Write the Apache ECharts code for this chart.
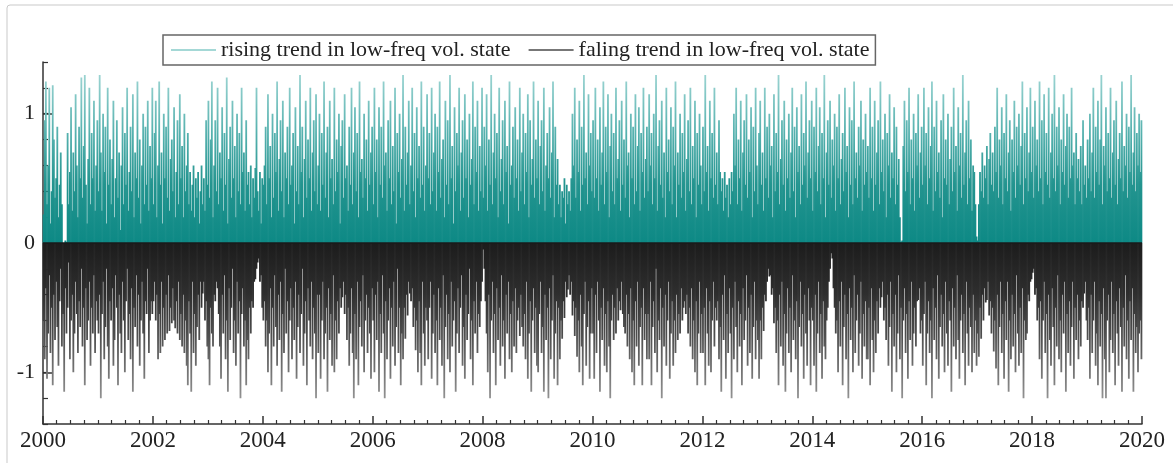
<!DOCTYPE html>
<html><head><meta charset="utf-8">
<script src="https://cdn.jsdelivr.net/npm/echarts@6/dist/echarts.min.js"></script>
<style>html,body{margin:0;padding:0;background:#fff}#c{width:1173px;height:463px}</style>
</head><body><div id="c"></div>
<script>
const startYear = 2000;
const yTickLabels = [-1,0,1];
const seriesNames = ['rising trend in low-freq vol. state','faling trend in low-freq vol. state'];

// rising trend values, one row per year (2000..2019)
const rising = [
[.22,.95,1.25,.3,.6,1.2,.15,.4,1.22,.8,.35,.5,.9,.2,.45,.7,.3,0,0,.02,.01,.85,.3,.55,1.05,.25,.7,.4,1.15,.6,.2,.9,.5,1.28,.35,.75,1.3,.45,.15,.65,1.2,.3,.85,.5,1.1,.25,.6,.95],
[.4,1.3,.7,.25,1.0,.55,.9,.15,1.2,.45,.8,.3,.65,1.1,.2,.5,.95,.35,.7,.1,.6,1.05,.3,.85,.45,1.2,.25,.55,.9,.4,1.15,.2,.7,.5,1.25,.35,.8,.15,.6,1.0,.3,.9,.45,1.1,.25,.75,.5,1.2],
[.3,.85,1.1,.2,.6,1.25,.45,.7,.15,1.0,.5,.9,.35,1.2,.25,.65,.8,.4,1.05,.2,.55,.95,.3,1.15,.5,.75,.2,1.0,.4,.6,.85,.3,.55,.25,.45,.6,.2,.5,.35,.55,.15,.4,.6,.3,.5,.25,.95,.45],
[1.1,.35,.8,1.25,.2,.6,.95,.4,1.2,.3,.7,.5,1.05,.25,.85,.45,1.28,.15,.65,.9,.35,1.1,.5,.75,.2,1.0,.4,.85,.3,1.2,.55,.7,.25,.95,.45,.55,.3,.6,.2,.5,.35,.58,1.2,.4,.25,.55,.15,.5],
[.45,.6,.9,.3,1.15,.5,.75,.2,1.0,.35,.85,.55,1.25,.25,.65,.95,.4,1.1,.2,.7,.5,.9,.3,1.2,.45,.6,.85,.15,1.05,.4,.75,.3,1.3,.55,.9,.2,.65,1.1,.35,.8,.5,1.2,.25,.7,.95,.4,1.15,.3],
[.6,1.0,.25,.85,.45,1.25,.35,.7,.9,.2,1.1,.5,.65,.3,1.2,.4,.8,.55,1.0,.15,.75,.95,.35,1.15,.5,.6,.25,.9,.45,1.2,.3,.7,1.05,.4,.85,.2,1.25,.55,.65,.35,1.0,.5,.8,.25,1.1,.45,.7,.9],
[.3,1.2,.55,.8,.2,1.05,.45,.9,.35,1.25,.6,.7,.25,.95,.5,1.1,.3,.75,.4,1.2,.15,.85,.55,1.0,.35,.65,1.3,.25,.9,.45,.7,1.1,.3,.6,1.2,.4,.85,.2,1.05,.5,.75,.35,1.25,.45,.9,.25,.6,1.15],
[.5,.85,.3,1.2,.4,.7,1.0,.25,.9,.55,1.25,.35,.65,.8,.2,1.1,.45,.95,.3,1.3,.5,.75,.15,1.05,.4,.85,.6,1.2,.25,.7,.95,.35,1.15,.5,.8,.2,1.0,.45,.65,1.25,.3,.9,.55,1.1,.25,.75,.4,1.2],
[.35,.9,.6,1.15,.25,.8,.45,1.3,.3,.7,1.0,.5,.85,.2,1.2,.4,.65,.95,.3,1.1,.55,.75,.15,1.25,.45,.6,.9,.35,1.05,.5,.8,.25,1.2,.4,.7,1.0,.3,.85,.55,1.15,.2,.95,.45,.65,1.25,.35,.8,.5],
[1.1,.3,.75,.95,.4,1.2,.25,.6,.85,.5,1.05,.35,.7,1.25,.2,.9,.45,.65,.3,.45,.2,.4,.35,.5,.15,.45,.3,.4,.25,.5,1.0,.6,1.2,.35,.8,.55,1.1,.25,.9,.45,1.3,.5,.7,.3,1.15,.6,.85,.4],
[.95,.35,1.2,.5,.8,.25,1.05,.45,.7,1.25,.3,.9,.55,1.15,.2,.75,1.0,.4,.85,.3,1.2,.5,.65,.95,.25,1.1,.45,.8,.35,1.25,.6,.7,.2,1.0,.5,.9,.3,1.15,.4,.75,1.05,.25,.85,.55,1.2,.35,.65,.9],
[.4,1.15,.6,.85,.3,1.0,.5,1.3,.25,.75,.95,.45,1.1,.35,.7,.2,1.2,.55,.8,.4,1.05,.3,.9,.6,1.25,.2,.7,.45,1.0,.35,.85,.55,1.15,.25,.65,.95,.4,1.2,.3,.75,.5,1.1,.2,.85,.45,1.0,.6,.3],
[.9,.4,1.3,.55,.75,.25,1.1,.5,.85,.35,1.2,.45,.7,.3,.95,.55,.4,.5,.25,.55,.35,.45,.2,.5,.3,.55,.4,1.0,.6,1.2,.3,.8,.5,1.1,.25,.7,.95,.45,1.15,.35,.8,.55,1.05,.2,.9,.4,1.2,.6],
[.3,.85,1.1,.45,.7,.25,1.2,.5,.9,.35,1.0,.6,.75,.2,1.15,.4,.85,.55,1.3,.3,.65,.95,.45,1.1,.25,.8,.5,1.0,.35,.7,1.2,.4,.9,.2,1.05,.55,.75,.3,1.15,.45,.85,.6,1.25,.35,.7,.95,.5,1.1],
[.25,.9,.55,1.2,.4,.75,1.05,.3,.85,.5,1.3,.2,.7,.95,.45,1.1,.35,.8,.6,1.0,.25,.9,.5,1.15,.3,.65,.85,.4,1.2,.55,.75,.2,1.05,.45,.95,.3,1.25,.5,.7,.35,.9,.6,1.1,.25,.8,.45,1.0,.55],
[.75,.35,1.2,.5,.9,.25,1.1,.45,.7,.95,.3,1.25,.55,.8,.4,1.0,.2,.85,.6,1.15,.35,.7,.5,1.05,.3,.9,.45,.65,.2,.01,.02,.75,1.1,.4,.95,.55,1.2,.3,.8,.5,1.0,.25,.85,.6,1.15,.35,.7,.9],
[.45,1.2,.6,.85,.3,1.05,.5,.75,1.25,.25,.9,.4,1.1,.55,.7,.35,.95,.2,1.15,.5,.8,.45,1.0,.3,.65,.9,.4,1.2,.55,.75,.25,1.05,.6,.85,.35,1.3,.45,.7,.95,.3,1.1,.5,.8,.25,.6,.55,.3,.05],
[.02,.3,.55,.4,.7,.35,.6,.5,.75,.3,.65,.85,.45,.7,.4,.9,.55,1.2,.35,.8,.6,1.05,.3,.85,.5,1.15,.4,.7,.95,.25,.8,.55,1.1,.35,.9,.6,1.0,.45,.75,1.25,.3,.85,.5,1.05,.4,.7,1.2,.55],
[.9,.35,1.1,.6,.8,.4,1.25,.5,.95,.3,1.15,.55,.85,.45,1.2,.35,.7,1.0,.5,1.3,.4,.9,.6,1.05,.3,.8,.55,1.15,.45,.75,1.0,.35,.9,.5,1.2,.6,.7,.3,.85,.5,.65,.4,.75,.3,.95,.45,.6,.35],
[.8,.5,1.0,.4,.7,1.2,.35,.9,.55,1.1,.45,.8,1.3,.3,.75,.6,1.05,.4,.85,.5,1.2,.35,.7,.95,.45,1.1,.3,.65,.85,.5,1.25,.4,.75,.6,1.0,.35,.9,.55,1.3,.45,.7,1.05,.4,.85,.6,1.0,.55,.95]
];

// falling trend values, one row per year (2000..2019)
const falling = [
[-.6,-.9,-.35,-1.05,-.7,-.25,-.85,-.5,-1.1,-.4,-.75,-.3,-.65,-.95,-.45,-.2,-.8,-.55,-1.15,-.35,-.7,-.5,-.15,-.9,-.6,-.4,-1.0,-.7,-.3,-.55,-.85,-.45,-.65,-.2,-.8,-.5,-1.1,-.35,-.75,-.6,-.3,-.95,-.5,-.7,-.25,-.85,-.45,-.6],
[-.7,-.4,-1.2,-.55,-.3,-.9,-.65,-.2,-.8,-1.05,-.45,-.6,-.35,-.95,-.75,-.25,-.5,-1.1,-.4,-.7,-.85,-.3,-.6,-1.0,-.45,-.2,-.75,-.55,-.9,-.35,-1.15,-.5,-.65,-.25,-.8,-.4,-.95,-.6,-.3,-.7,-1.05,-.45,-.55,-.2,-.85,-.6,-.45,-.55],
[-.45,-.3,-.6,-.4,-.9,-.55,-.85,-.3,-.8,-.5,-.75,-.4,-.7,-.25,-.68,-.5,-.62,-.35,-.6,-.66,-.45,-.7,-.3,-.75,-.55,-.8,-.4,-.85,-.6,-.95,-1.1,-.45,-.7,-1.15,-.3,-.85,-.55,-.95,-.65,-.4,-.75,-.3,-.5,-.39,-.3,-.6,-.45,-.8],
[-.9,-1.1,-.5,-.7,-.8,-.4,-.45,-.3,-.35,-.55,-.8,-1.05,-.4,-.7,-.25,-.9,-.6,-1.15,-.35,-.75,-.5,-.2,-.85,-.6,-.95,-.3,-.7,-.45,-1.2,-.55,-.35,-.8,-.6,-1.1,-.75,-.9,-.5,-.7,-.45,-.5,-.3,-.28,-.2,-.15,-.12,-.3,-.25,-.5],
[-.6,-.45,-.8,-.6,-1.0,-.7,-.35,-1.1,-.5,-.8,-.25,-.65,-.95,-.4,-.75,-.3,-1.15,-.55,-.85,-.2,-.7,-.45,-1.0,-.6,-.35,-.9,-.5,-.75,-.3,-1.05,-.65,-.4,-.85,-.55,-.2,-.95,-.7,-.45,-1.1,-.35,-.6,-.8,-.3,-.9,-.5,-.7,-1.2,-.4],
[-.85,-.4,-1.05,-.6,-.3,-.9,-.7,-.5,-1.15,-.35,-.75,-.55,-.95,-.25,-1.0,-.6,-.9,-.45,-.7,-.35,-.5,-.42,-.3,-.55,-.4,-.75,-.5,-.95,-.7,-.35,-.85,-1.2,-.55,-.9,-.3,-1.1,-.65,-.45,-.8,-.25,-1.0,-.6,-.4,-.85,-.5,-.7,-1.05,-.35],
[-.6,-1.0,-.4,-.75,-.3,-1.15,-.55,-.85,-.25,-.7,-1.2,-.45,-.9,-.6,-.35,-1.05,-.5,-.8,-.3,-.95,-.65,-.2,-.85,-.5,-1.1,-.7,-.9,-.5,-.74,-.4,-.56,-.3,-.39,-.45,-.35,-.65,-.5,-.83,-.6,-1.0,-.45,-.85,-1.1,-.3,-.7,-.95,-.5,-.6],
[-.9,-.5,-.3,-1.05,-.7,-.4,-.85,-.6,-1.1,-.35,-.75,-.5,-.95,-.25,-1.2,-.65,-.4,-.9,-.55,-1.0,-.3,-.8,-.6,-.45,-1.15,-.7,-.35,-.85,-.5,-.25,-.95,-.65,-1.05,-.4,-.75,-.55,-.2,-.9,-.6,-1.1,-.45,-.7,-.3,-.85,-.55,-.65,-.45,-.3],
[-.05,-.2,-.45,-.7,-1.0,-.4,-1.2,-.6,-.3,-.85,-.55,-1.1,-.35,-.75,-.5,-.95,-.25,-.8,-.6,-1.05,-.4,-.7,-.3,-.9,-.55,-1.0,-.45,-.8,-.35,-.85,-.6,-.5,-.72,-.4,-.65,-.8,-.55,-.9,-.3,-1.05,-.7,-.45,-1.15,-.6,-.35,-.85,-.5,-.95],
[-1.0,-.55,-.3,-.85,-.65,-1.15,-.4,-.75,-.5,-1.2,-.35,-.9,-.6,-.25,-1.05,-.7,-.45,-1.1,-.5,-.9,-.6,-.74,-.45,-.58,-.3,-.42,-.36,-.25,-.4,-.3,-.56,-.45,-.72,-.5,-.88,-.6,-1.0,-.4,-.8,-1.1,-.55,-.3,-.95,-.65,-.45,-1.05,-.7,-.35],
[-.7,-1.05,-.4,-.85,-.3,-.6,-1.15,-.5,-.75,-.35,-.95,-.55,-1.0,-.45,-.8,-1.2,-.6,-.4,-.75,-.5,-.7,-.35,-.6,-.45,-.52,-.3,-.55,-.65,-.7,-.4,-.8,-.55,-.9,-.35,-1.0,-.6,-1.1,-.45,-.8,-.3,-.95,-.65,-.5,-1.1,-.35,-.75,-.55,-.9],
[-.55,-.9,-.3,-1.1,-.65,-.45,-.85,-.2,-1.0,-.6,-.75,-.35,-1.2,-.5,-.8,-.4,-.95,-.6,-.3,-1.05,-.7,-.45,-.95,-.6,-.85,-.4,-.75,-.55,-.7,-.35,-.6,-.5,-.45,-.55,-.4,-.7,-.5,-.8,-.35,-.9,-.6,-1.0,-.45,-1.1,-.7,-.3,-.85,-.55],
[-.85,-.5,-1.1,-.35,-.7,-.95,-.45,-1.0,-.6,-.3,-.8,-.5,-.6,-.45,-.9,-.65,-1.15,-.4,-.75,-.25,-1.05,-.55,-.85,-.35,-.7,-1.2,-.5,-.9,-.3,-.65,-1.0,-.45,-.8,-.55,-1.1,-.35,-.75,-.6,-.25,-.95,-.5,-.85,-.4,-1.05,-.65,-.3,-.9,-.6],
[-.75,-1.05,-.6,-.9,-.5,-.68,-.4,-.45,-.3,-.2,-.26,-.25,-.4,-.35,-.62,-.5,-.85,-.6,-1.1,-.4,-.8,-.3,-.95,-.55,-1.15,-.7,-.35,-.85,-.5,-1.0,-.25,-.75,-.6,-.9,-.45,-1.2,-.65,-.3,-.8,-.55,-1.05,-.4,-.7,-.95,-.35,-.6,-1.1,-.5],
[-.6,-.95,-.4,-1.15,-.7,-.3,-.85,-.55,-1.05,-.45,-.8,-.9,-.6,-.5,-.3,-.2,-.08,-.12,-.35,-.5,-.7,-.6,-1.0,-.45,-.8,-.3,-1.1,-.65,-.4,-.9,-.55,-1.2,-.35,-.75,-.5,-1.0,-.25,-.85,-.6,-.4,-.95,-.7,-.3,-1.05,-.55,-.8,-.45,-.9],
[-.9,-.5,-1.1,-.35,-.75,-1.0,-.6,-.85,-.45,-.7,-.35,-.5,-.42,-.3,-.6,-.5,-.75,-.4,-.95,-.65,-.3,-1.15,-.55,-.8,-.4,-1.0,-.7,-.25,-.9,-.5,-1.2,-.6,-.35,-.85,-.55,-1.05,-.45,-.75,-.3,-.95,-.7,-.5,-.8,-.45,-.44,-.35,-.7,-.6],
[-.95,-.55,-.3,-1.1,-.7,-.45,-.85,-.6,-1.2,-.35,-.75,-.5,-.9,-.25,-1.05,-.65,-.4,-.8,-.55,-1.0,-.3,-.7,-.95,-.45,-.6,-1.15,-.35,-.8,-.5,-.9,-.25,-.75,-1.05,-.6,-.4,-.85,-.55,-1.1,-.3,-.7,-.95,-.5,-.65,-1.0,-.4,-.85,-.6,-.95],
[-.7,-.88,-.5,-.74,-.4,-.6,-.35,-.46,-.44,-.3,-.56,-.45,-.7,-.5,-.84,-.6,-.97,-.4,-1.1,-.65,-.3,-.85,-.55,-1.05,-.45,-.75,-.3,-1.15,-.6,-.9,-.4,-.8,-.55,-1.0,-.25,-.7,-.95,-.5,-.85,-.35,-1.2,-.6,-.75,-.7,-.4,-.45,-.3,-.28],
[-.23,-.2,-.4,-.35,-.6,-.5,-.9,-.45,-1.05,-.6,-.3,-.85,-.55,-1.2,-.4,-.75,-.95,-.35,-.65,-1.1,-.5,-.8,-.25,-.9,-.6,-1.0,-.4,-.7,-.3,-1.15,-.55,-.85,-.45,-.95,-.65,-.3,-1.05,-.5,-.75,-.4,-.9,-.6,-.8,-.45,-.5,-.39,-.3,-.6],
[-.75,-.5,-1.05,-.4,-.85,-.6,-.3,-.95,-.7,-1.1,-.45,-.8,-.55,-1.2,-.35,-.9,-1.2,-.6,-.4,-1.0,-.75,-.3,-.85,-.55,-1.1,-.45,-.7,-.95,-.35,-.65,-1.15,-.5,-.8,-.25,-.9,-.6,-1.05,-.45,-.75,-.35,-1.15,-.55,-.85,-.65,-1.0,-.7,-.6,-.9]
];

function toPoints(rows) {
  const out = [];
  rows.forEach((row, y) => {
    row.forEach((v, j) => out.push([startYear + y + (j + 0.5) / row.length, v]));
  });
  return out;
}

const FONT = 'Liberation Serif';
const chart = echarts.init(document.getElementById('c'), null, {renderer: 'canvas'});
const xAxisBase = {type: 'value', min: 2000, max: 2020, interval: 2};
chart.setOption({
  animation: false,
  backgroundColor: '#fff',
  graphic: [{
    type: 'rect', z: -10, silent: true,
    shape: {x: 7, y: 5, width: 1200, height: 520, r: 3},
    style: {fill: 'none', stroke: '#c9c9c9', lineWidth: 1}
  }],
  legend: {
    left: 163, top: 35,
    data: [
      {name: seriesNames[0], itemStyle: {color: '#86cbc8'}},
      {name: seriesNames[1], itemStyle: {color: '#4a4a4a'}}
    ],
    icon: 'rect', itemWidth: 45, itemHeight: 1.5, itemGap: 18,
    padding: [4, 6, 4, 8],
    borderColor: '#666', borderWidth: 1.5, backgroundColor: '#fff',
    textStyle: {fontFamily: FONT, fontSize: 22, color: '#222'}
  },
  grid: {left: 43, right: 31, top: 62, bottom: 39, containLabel: false},
  xAxis: [Object.assign({}, xAxisBase, {show: false}),
    Object.assign({}, xAxisBase, {
      position: 'bottom',
      axisLine: {show: true, onZero: false, lineStyle: {color: '#333', width: 1.5}},
      axisTick: {show: true, inside: true, length: 8, lineStyle: {color: '#333', width: 1.5}},
      minorTick: {show: true, splitNumber: 8, length: 4, lineStyle: {color: '#333', width: 1.2}},
      splitLine: {show: false},
      axisLabel: {fontFamily: FONT, fontSize: 23, color: '#222', margin: 5, formatter: v => String(v)}
    })],
  yAxis: [{
    type: 'value', min: -1.4, max: 1.4, interval: 0.2,
    axisLine: {show: true, onZero: false, lineStyle: {color: '#333', width: 1.5}},
    axisTick: {show: true, inside: true, length: 5, lineStyle: {color: '#333', width: 1.2}},
    splitLine: {show: false},
    axisLabel: {fontFamily: FONT, fontSize: 22, color: '#222', margin: 8,
      customValues: yTickLabels, formatter: v => String(Math.round(v))}
  }, {
    type: 'value', min: -1.4, max: 1.4, position: 'left',
    axisLine: {show: false, onZero: false},
    axisTick: {show: true, inside: true, length: 9, customValues: yTickLabels, lineStyle: {color: '#333', width: 1.5}},
    axisLabel: {show: false}, splitLine: {show: false}
  }],
  series: [{
    name: seriesNames[0], type: 'bar', barWidth: 1.8, barGap: '-100%',
    xAxisIndex: 0, yAxisIndex: 0,
    data: toPoints(rising),
    itemStyle: {color: '#2a9a97'},
    emphasis: {disabled: true}, silent: true
  }, {
    name: seriesNames[1], type: 'bar', barWidth: 1.8, barGap: '-100%',
    xAxisIndex: 0, yAxisIndex: 0,
    data: toPoints(falling),
    itemStyle: {color: '#444'},
    emphasis: {disabled: true}, silent: true,
    markLine: {silent: true, symbol: 'none', label: {show: false},
      lineStyle: {color: '#1a1a1a', width: 1.5, type: 'solid'},
      data: [{yAxis: 0}]}
  }]
});

// shade the spikes by distance from the zero line (dark near 0, light at the tips)
const py = v => chart.convertToPixel({yAxisIndex: 0}, v);
const y0 = py(0), yTop = py(1.3), yBot = py(-1.3);
chart.setOption({
  series: [{
    itemStyle: {color: new echarts.graphic.LinearGradient(0, y0, 0, yTop, [
      {offset: 0, color: '#0d8985'}, {offset: 0.35, color: '#23948f'},
      {offset: 0.65, color: '#55b1ae'}, {offset: 1, color: '#9ad3d1'}], true)}
  }, {
    itemStyle: {color: new echarts.graphic.LinearGradient(0, y0, 0, yBot, [
      {offset: 0, color: '#1c1c1c'}, {offset: 0.3, color: '#2e2e2e'},
      {offset: 0.55, color: '#4e4e4e'}, {offset: 0.8, color: '#7a7a7a'}, {offset: 1, color: '#a0a0a0'}], true)}
  }]
});
</script></body></html>
